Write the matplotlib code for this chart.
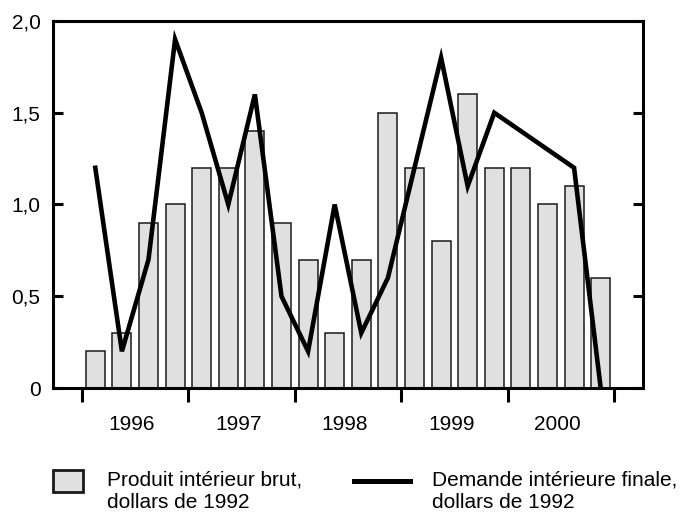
import numpy as np
import matplotlib.pyplot as plt
from matplotlib.patches import Rectangle
from matplotlib.lines import Line2D

plt.rcParams['font.family'] = ['Liberation Sans', 'DejaVu Sans']

# quarterly data, 1996 Q1 .. 2000 Q4
years = ['1996', '1997', '1998', '1999', '2000']
pib = [0.2, 0.3, 0.9, 1.0, 1.2, 1.2, 1.4, 0.9, 0.7, 0.3,
       0.7, 1.5, 1.2, 0.8, 1.6, 1.2, 1.2, 1.0, 1.1, 0.6]
demande = [1.2, 0.2, 0.7, 1.9, 1.5, 1.0, 1.6, 0.5, 0.2, 1.0,
           0.3, 0.6, 1.2, 1.8, 1.1, 1.5, 1.4, 1.3, 1.2, 0.0]
yticks = [0, 0.5, 1.0, 1.5, 2.0]
ytick_labels = ['0', '0,5', '1,0', '1,5', '2,0']

x = np.arange(len(pib))

fig = plt.figure(figsize=(6.83, 5.17), dpi=100)
ax = fig.add_axes([0.0776, 0.2495, 0.8638, 0.7099])

ax.bar(x, pib, width=0.72, color='#e0e0e0', edgecolor='#1a1a1a', linewidth=1.1, zorder=2)
ax.plot(x, demande, color='black', linewidth=3.3, solid_joinstyle='miter', zorder=3)

ax.set_xlim(-1.59, 20.59)
ax.set_ylim(0, 2.0)

for s in ax.spines.values():
    s.set_linewidth(2.2)

ax.set_yticks(yticks)
ax.set_yticklabels(ytick_labels)
ax.tick_params(axis='y', direction='in', length=7, width=2.2, right=True,
               labelsize=15, pad=9)

# year boundaries as major ticks, year names as minor labels
ax.set_xticks(np.arange(-0.5, 20, 4))
ax.set_xticklabels([])
ax.set_xticks(np.arange(1.38, 20, 4), minor=True)
ax.set_xticklabels(years, minor=True)
ax.tick_params(axis='x', which='major', direction='out', length=10, width=2.2)
ax.tick_params(axis='x', which='minor', length=0, pad=19.5, labelsize=15)

# legend
fig.patches.append(Rectangle((53 / 683, 1 - 492 / 517), 30 / 683, 22 / 517,
                             transform=fig.transFigure, facecolor='#e0e0e0',
                             edgecolor='#1a1a1a', linewidth=2))
fig.text(107 / 683, 1 - 471 / 517, 'Produit intérieur brut,\ndollars de 1992',
         fontsize=15, va='top', ha='left')
fig.lines.append(Line2D([354 / 683, 410 / 683], [1 - 481 / 517, 1 - 481 / 517],
                        transform=fig.transFigure, color='black', linewidth=3.6))
fig.text(432 / 683, 1 - 471 / 517, 'Demande intérieure finale,\ndollars de 1992',
         fontsize=15, va='top', ha='left')

fig.savefig('out.png', dpi=100)
